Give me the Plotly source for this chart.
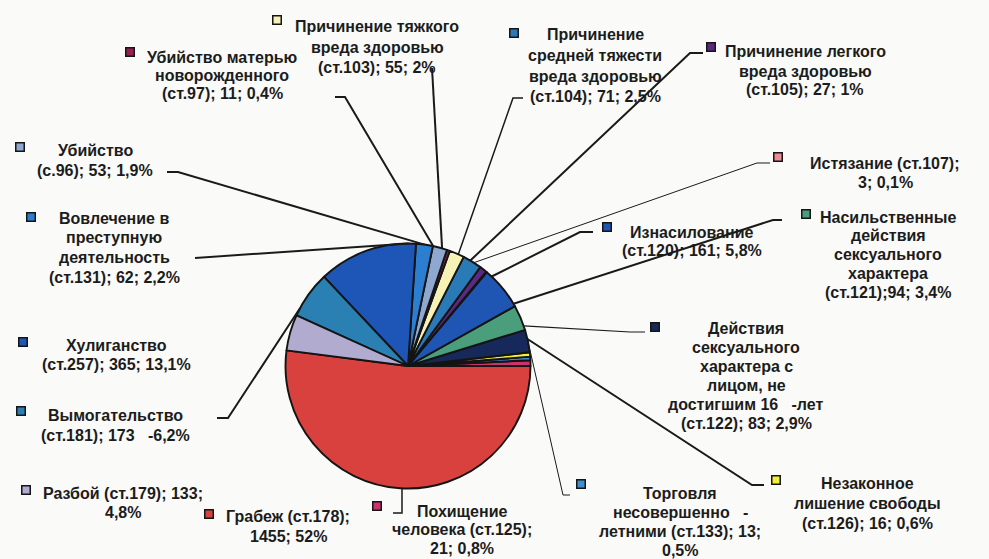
import math
import plotly.graph_objects as go

W, H = 989, 559

# ---- data ----
labels = [
    "Грабеж (ст.178)", "Похищение человека (ст.125)", "Торговля несовершеннолетними (ст.133)",
    "Незаконное лишение свободы (ст.126)",
    "Действия сексуального характера с лицом, не достигшим 16-лет (ст.122)",
    "Насильственные действия сексуального характера (ст.121)", "Изнасилование (ст.120)",
    "Истязание (ст.107)", "Причинение легкого вреда здоровью (ст.105)",
    "Причинение средней тяжести вреда здоровью (ст.104)", "Причинение тяжкого вреда здоровью (ст.103)",
    "Убийство матерью новорожденного (ст.97)", "Убийство (с.96)",
    "Вовлечение в преступную деятельность (ст.131)", "Хулиганство (ст.257)",
    "Вымогательство (ст.181)", "Разбой (ст.179)",
]
values = [1455, 21, 13, 16, 83, 94, 161, 3, 27, 71, 55, 11, 53, 62, 365, 173, 133]
label_texts = [
    ["Грабеж (ст.178);", "1455; 52%"],
    ["Похищение", "человека (ст.125);", "21; 0,8%"],
    ["Торговля", "несовершенно   -", "летними (ст.133); 13;", "0,5%"],
    ["Незаконное", "лишение свободы", "(ст.126); 16; 0,6%"],
    ["Действия", "сексуального", "характера с", "лицом, не", "достигшим 16   -лет", "(ст.122); 83; 2,9%"],
    ["Насильственные", "действия", "сексуального", "характера", "(ст.121);94; 3,4%"],
    ["Изнасилование", "(ст.120); 161; 5,8%"],
    ["Истязание (ст.107);", "3; 0,1%"],
    ["Причинение легкого", "вреда здоровью", "(ст.105); 27; 1%"],
    ["Причинение", "средней тяжести", "вреда здоровью", "(ст.104); 71; 2,5%"],
    ["Причинение тяжкого", "вреда здоровью", "(ст.103); 55; 2%"],
    ["Убийство матерью", "новорожденного", "(ст.97); 11; 0,4%"],
    ["Убийство", "(с.96); 53; 1,9%"],
    ["Вовлечение в", "преступную", "деятельность", "(ст.131); 62; 2,2%"],
    ["Хулиганство", "(ст.257); 365; 13,1%"],
    ["Вымогательство", "(ст.181); 173   -6,2%"],
    ["Разбой (ст.179); 133;", "4,8%"],
]
colors = [
    "#d8413d", "#d0306e", "#3d8fd0", "#f2ee3a", "#16295a", "#4a9e7c", "#1f56b4",
    "#f08a92", "#5a2a82", "#2a7ab8", "#f6f2b6", "#9a1f4e", "#8ea8cf", "#2c7fd0",
    "#1d56b6", "#2a80b3", "#b2abd0",
]

# ---- layout (pixels) ----
CX, CY, D = 408, 366, 245
R = D / 2
# label block: center x, first line y, line spacing, marker x, marker y
label_pos = [
    (288, 516, 20.0, 209, 514),
    (462, 511, 18.5, 377, 506),
    (680, 493, 19.0, 581, 484),
    (867, 483, 20.0, 776, 480),
    (746, 328, 19.0, 655, 327),
    (888, 217, 18.8, 806, 214),
    (692, 232, 19.0, 607, 227),
    (885, 163, 19.0, 778, 157),
    (805, 52, 19.0, 711, 47),
    (595, 35, 20.5, 514, 33),
    (377, 27, 20.0, 277, 20),
    (222, 57, 18.3, 130, 52),
    (95, 150, 20.0, 20, 147),
    (114, 218, 19.7, 31, 217),
    (116, 345, 19.0, 23, 342),
    (115, 415, 20.0, 21, 411),
    (123, 493, 19.0, 26, 490),
]
# leader lines: label-side points (pixels), width; None = no leader
leaders = [
    None,
    ([(393, 513), (402, 513)], 1.5),
    ([(570, 495), (563, 495)], 1.0),
    ([(764, 485), (752, 485)], 2.0),
    ([(645, 332), (630, 332)], 1.2),
    ([(782, 220), (773, 220)], 2.0),
    ([(593, 232), (580, 232)], 2.0),
    ([(770, 163), (757, 163)], 1.0),
    ([(703, 53), (690, 53)], 2.0),
    ([(523, 98), (513, 98)], 1.5),
    ([(432, 68)], 2.0),
    ([(335, 97), (345, 97)], 2.0),
    ([(167, 172), (178, 172)], 2.0),
    ([(195, 258)], 2.0),
    None,
    ([(217, 418), (228, 418)], 2.0),
    None,
]

def px(x):
    return x / W

def py(y):
    return 1 - y / H

fig = go.Figure(go.Pie(
    labels=labels, values=values, sort=False, direction="counterclockwise",
    rotation=90, textinfo="none", hoverinfo="skip",
    marker=dict(colors=colors, line=dict(color="#141414", width=1.9)),
    domain=dict(x=[px(CX - R), px(CX + R)], y=[py(CY + R), py(CY - R)]),
    showlegend=False,
))

total = sum(values)
cum = 0
shapes = []
annotations = []
font = dict(family="Liberation Sans, Arial, sans-serif", size=16, color="#1c1c1c")
for i, v in enumerate(values):
    mid = math.radians(180 + 360 * (cum + v / 2) / total)
    cum += v
    lx, ly, sp, mx, my = label_pos[i]
    for k, t in enumerate(label_texts[i]):
        annotations.append(dict(
            text="<b>%s</b>" % t,
            x=px(lx), y=py(ly + k * sp), xref="paper", yref="paper",
            xanchor="center", yanchor="middle", showarrow=False, font=font,
        ))
    annotations.append(dict(
        text="", x=px(mx), y=py(my), xref="paper", yref="paper", showarrow=False,
        width=7, height=7, bgcolor=colors[i], bordercolor="#151515", borderwidth=1.5,
        borderpad=0, xanchor="center", yanchor="middle",
    ))
    if leaders[i] is None:
        continue
    pts, lw = leaders[i]
    if i == 1:
        ex = pts[-1][0]
        end = (ex, CY + math.sqrt(R * R - (ex - CX) ** 2))
    else:
        end = (CX + R * math.cos(mid), CY - R * math.sin(mid))
    allp = pts + [end]
    path = "M " + " L ".join("%f,%f" % (px(x), py(y)) for x, y in allp)
    shapes.append(dict(type="path", path=path, xref="paper", yref="paper",
                       line=dict(color="#1a1a1a", width=lw)))

fig.update_layout(
    width=W, height=H, margin=dict(l=0, r=0, t=0, b=0),
    paper_bgcolor="#fafaf8", plot_bgcolor="#fafaf8",
    shapes=shapes, annotations=annotations,
)
fig.write_html(
    "out.html",
    config={"displayModeBar": False, "staticPlot": True},
    post_script="document.body.style.margin='0';document.body.style.background='#fafaf8';",
)
